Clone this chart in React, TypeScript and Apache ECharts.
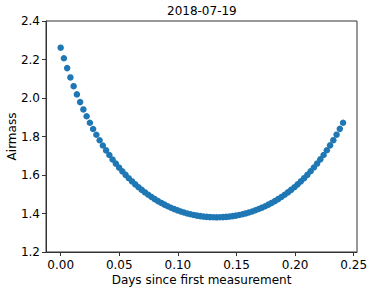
import React, { useEffect, useRef } from "react";
import * as echarts from "echarts";

const TITLE = "2018-07-19";
const X_NAME = "Days since first measurement";
const Y_NAME = "Airmass";
const X_TICKS = [0, 0.05, 0.1, 0.15, 0.2, 0.25];

const days = [
  0, 0.00277, 0.00554, 0.00831, 0.01108, 0.01385, 0.01661, 0.01938, 0.02215, 0.02492,
  0.02769, 0.03046, 0.03323, 0.036, 0.03877, 0.04154, 0.0443, 0.04707, 0.04984, 0.05261,
  0.05538, 0.05815, 0.06092, 0.06369, 0.06646, 0.06923, 0.07199, 0.07476, 0.07753, 0.0803,
  0.08307, 0.08584, 0.08861, 0.09138, 0.09415, 0.09692, 0.09968, 0.10245, 0.10522, 0.10799,
  0.11076, 0.11353, 0.1163, 0.11907, 0.12184, 0.12461, 0.12737, 0.13014, 0.13291, 0.13568,
  0.13845, 0.14122, 0.14399, 0.14676, 0.14953, 0.1523, 0.15506, 0.15783, 0.1606, 0.16337,
  0.16614, 0.16891, 0.17168, 0.17445, 0.17722, 0.17999, 0.18275, 0.18552, 0.18829, 0.19106,
  0.19383, 0.1966, 0.19937, 0.20214, 0.20491, 0.20768, 0.21044, 0.21321, 0.21598, 0.21875,
  0.22152, 0.22429, 0.22706, 0.22983, 0.2326, 0.23537, 0.23813, 0.2409,
];

const airmass = [
  2.2614, 2.2066, 2.1552, 2.1069, 2.0615, 2.0188, 1.9786, 1.9407, 1.905, 1.8712,
  1.8392, 1.8091, 1.7805, 1.7535, 1.7279, 1.7037, 1.6808, 1.6591, 1.6386, 1.6191,
  1.6007, 1.5832, 1.5667, 1.5512, 1.5365, 1.5226, 1.5095, 1.4971, 1.4855, 1.4746,
  1.4644, 1.4549, 1.446, 1.4377, 1.4301, 1.423, 1.4165, 1.4106, 1.4052, 1.4003,
  1.3961, 1.3923, 1.389, 1.3863, 1.384, 1.3823, 1.3811, 1.3803, 1.3801, 1.3803,
  1.3811, 1.3823, 1.3841, 1.3863, 1.3891, 1.3923, 1.3961, 1.4004, 1.4052, 1.4106,
  1.4166, 1.4231, 1.4302, 1.4378, 1.4461, 1.455, 1.4646, 1.4748, 1.4857, 1.4973,
  1.5096, 1.5228, 1.5366, 1.5514, 1.567, 1.5835, 1.6009, 1.6194, 1.6389, 1.6594,
  1.6812, 1.7041, 1.7283, 1.7539, 1.7809, 1.8095, 1.8397, 1.8717,
];

const FONT = "DejaVu Sans";

export default function App() {
  const ref = useRef<HTMLDivElement>(null);
  useEffect(() => {
    if (!ref.current) return;
    const chart = echarts.init(ref.current, undefined, { renderer: "svg" });
    const data = days.map((d, i) => [d, airmass[i]]);
    chart.setOption({
      animation: false,
      backgroundColor: "#fff",
      textStyle: { fontFamily: FONT, color: "#000" },
      title: {
        text: TITLE,
        left: 167,
        top: 5,
        padding: 0,
        textStyle: { fontFamily: FONT, fontSize: 12, fontWeight: "normal", color: "#000" },
      },
      grid: {
        left: 46,
        right: 17,
        top: 21,
        bottom: 40,
        outerBoundsMode: "none",
        containLabel: false,
        show: true,
        borderColor: "#333",
        borderWidth: 1,
        backgroundColor: "transparent",
      },
      xAxis: {
        type: "value",
        min: -0.0125,
        max: 0.2528,
        name: X_NAME,
        nameLocation: "middle",
        nameGap: 21.5,
        nameMoveOverlap: false,
        nameTextStyle: { fontFamily: FONT, fontSize: 12, color: "#000" },
        axisLine: { show: true, onZero: false, lineStyle: { color: "#333", width: 1 } },
        axisTick: { show: true, inside: false, length: 4, customValues: X_TICKS, lineStyle: { color: "#333" } },
        axisLabel: {
          customValues: X_TICKS,
          formatter: (v: number) => v.toFixed(2),
          fontFamily: FONT,
          fontSize: 12,
          color: "#000",
          margin: 7,
        },
        splitLine: { show: false },
      },
      yAxis: {
        type: "value",
        min: 1.2,
        max: 2.4,
        interval: 0.2,
        name: Y_NAME,
        nameLocation: "middle",
        nameGap: 28,
        nameMoveOverlap: false,
        nameTextStyle: { fontFamily: FONT, fontSize: 12, color: "#000" },
        axisLine: { show: true, onZero: false, lineStyle: { color: "#333", width: 1 } },
        axisTick: { show: true, inside: false, length: 4, lineStyle: { color: "#333" } },
        axisLabel: {
          formatter: (v: number) => v.toFixed(1),
          fontFamily: FONT,
          fontSize: 12,
          color: "#000",
          margin: 6,
        },
        splitLine: { show: false },
      },
      series: [
        {
          type: "scatter",
          data,
          symbol: "circle",
          symbolSize: 6.5,
          itemStyle: { color: "#1f77b4", opacity: 1 },
        },
      ],
    });
    return () => chart.dispose();
  }, []);
  return (
    <div
      ref={ref}
      style={{ position: "fixed", left: 0, top: 0, width: 374, height: 292 }}
    />
  );
}
